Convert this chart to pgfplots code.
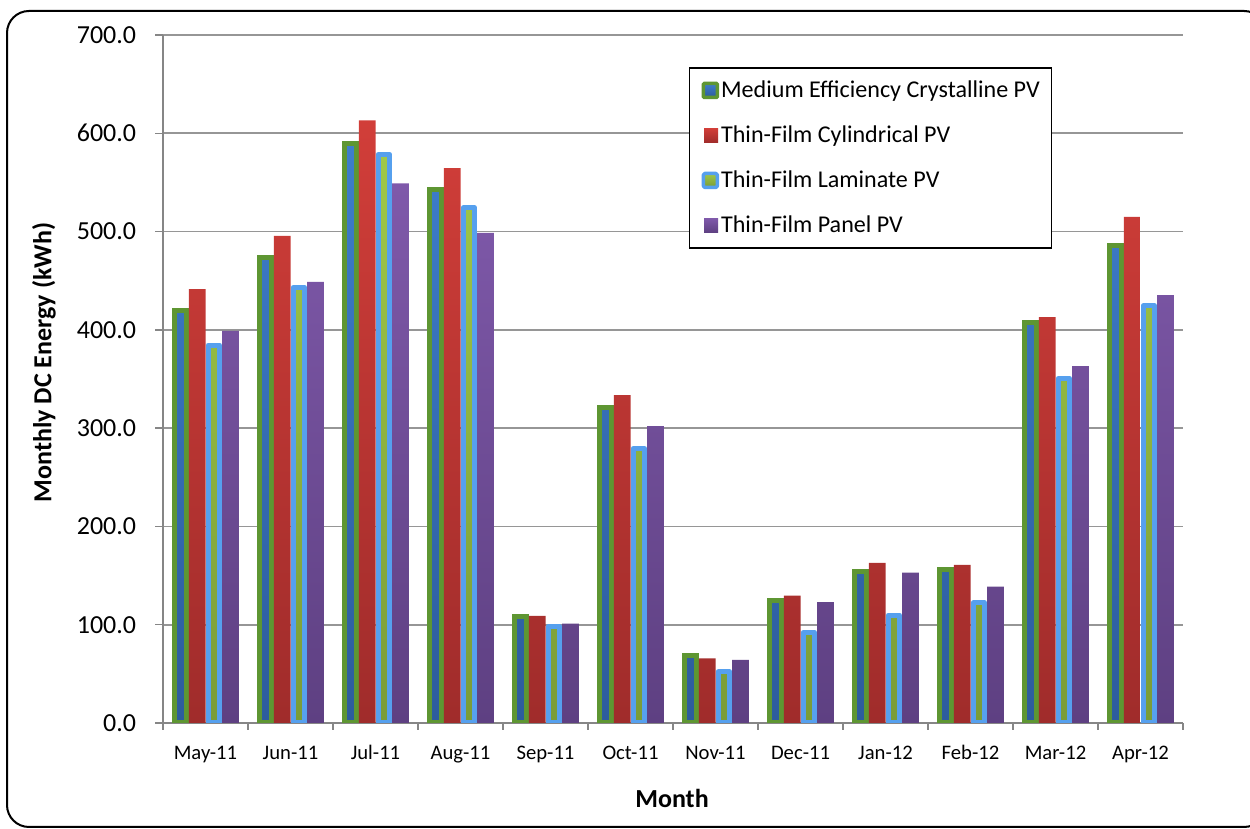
\documentclass[border=0pt]{standalone}
\usepackage{fontspec}
\setmainfont{Carlito}
\usepackage{pgfplots}
\pgfplotsset{compat=1.18}

\newdimen\px \px=0.6pt

\definecolor{medBorder}{RGB}{94,150,50}
\definecolor{medTop}{RGB}{62,126,203}
\definecolor{medBot}{RGB}{45,92,156}
\definecolor{cylTop}{RGB}{209,62,57}
\definecolor{cylBot}{RGB}{160,44,43}
\definecolor{lamBorder}{RGB}{86,160,238}
\definecolor{lamTop}{RGB}{160,200,72}
\definecolor{lamBot}{RGB}{122,156,55}
\definecolor{panTop}{RGB}{127,89,170}
\definecolor{panBot}{RGB}{94,64,130}
\definecolor{gridGray}{RGB}{150,150,150}
\definecolor{axisGray}{RGB}{134,134,134}

% Monthly DC energy (kWh), May 2011 -- April 2012
\pgfplotstableread{
idx med    cyl    lam    pan
0   419.3  441.4  384.5  399.0
1   473.8  495.6  443.3  448.8
2   590.1  613.2  578.5  549.0
3   542.8  564.6  524.0  498.7
4   108.7  109.0   98.2  101.0
5   321.5  333.6  279.2  302.0
6    68.4   65.8   52.1   64.1
7   125.0  129.5   92.1  123.0
8   154.1  163.0  109.7  153.0
9   156.5  161.0  122.2  138.7
10  407.1  413.0  350.7  363.0
11  485.7  515.0  424.4  435.4
}\energy

\begin{document}
\begin{tikzpicture}
\useasboundingbox (0,0) rectangle (750pt,497.4pt);
\draw[line width=2\px, rounded corners=22\px] (7\px,2\px) rectangle (1266\px,818\px);
\begin{axis}[
  at={(163\px,106\px)}, anchor=south west,
  scale only axis, width=1020\px, height=688\px,
  xmin=-0.5, xmax=11.5, ymin=0, ymax=700,
  axis x line*=bottom, axis y line*=left,
  axis line style={draw=axisGray, line width=1.5\px},
  tick align=outside,
  xtick={0,...,11},
  xticklabels={May-11,Jun-11,Jul-11,Aug-11,Sep-11,Oct-11,Nov-11,Dec-11,Jan-12,Feb-12,Mar-12,Apr-12},
  major x tick style={draw=none},
  minor xtick={-0.5,0.5,...,11.5},
  minor x tick style={draw=axisGray, line width=1.5\px},
  minor tick length=7\px,
  ytick={0,100,...,700},
  major y tick style={draw=axisGray, line width=1.5\px},
  major tick length=8\px,
  ymajorgrids,
  y grid style={draw=gridGray, line width=1.6\px},
  /pgf/number format/assume math mode=true,
  yticklabel style={/pgf/number format/.cd, fixed, fixed zerofill, precision=1,
    /tikz/.cd, font=\fontsize{15.6}{18}\selectfont, xshift=-13\px},
  xticklabel style={font=\fontsize{12.4}{15}\selectfont, anchor=base,
    text height=14\px, text depth=4\px, yshift=-29\px},
  xlabel={Month},
  ylabel={Monthly DC Energy (kWh)},
  xlabel style={font=\bfseries\fontsize{15.6}{18}\selectfont,
    at={(axis description cs:0.499,-0.109)}, anchor=center},
  ylabel style={font=\bfseries\fontsize{15.6}{18}\selectfont,
    at={(axis description cs:-0.1167,0.524)}, anchor=center},
  legend style={at={(axis description cs:0.5157,0.953)}, anchor=north west,
    draw=black, line width=1.2\px, fill=white,
    font=\fontsize{14.45}{16}\selectfont,
    inner xsep=12\px, inner ysep=13\px, row sep=26\px,
    nodes={inner sep=0pt, text height=17\px, text depth=2\px},
    /tikz/every even column/.append style={column sep=4\px},
    /tikz/every odd column/.append style={column sep=2\px}},
  legend cell align=left,
]
\addplot[ybar, bar width=11.7\px, bar shift=-25.05\px,
  draw=medBorder, line width=5\px, top color=medTop, bottom color=medBot,
  legend image code/.code={\draw[draw=medBorder, line width=3.5\px, rounded corners=1\px,
    top color=medTop, bottom color=medBot] (-0.25\px,-7\px) rectangle (13.75\px,7\px);}]
  table[x=idx, y=med] {\energy};
\addlegendentry{Medium Efficiency Crystalline PV}
\addplot[ybar, bar width=16.7\px, bar shift=-8.35\px,
  draw=none, top color=cylTop, bottom color=cylBot,
  legend image code/.code={\fill[top color=cylTop, bottom color=cylBot]
    (0.5\px,-7\px) rectangle (14.5\px,7\px);}]
  table[x=idx, y=cyl] {\energy};
\addlegendentry{Thin-Film Cylindrical PV}
\addplot[ybar, bar width=11.7\px, bar shift=8.35\px,
  draw=lamBorder, line width=5\px, line join=round, top color=lamTop, bottom color=lamBot,
  legend image code/.code={\draw[draw=lamBorder, line width=3.5\px, rounded corners=1.5\px,
    top color=lamTop, bottom color=lamBot] (-0.25\px,-7\px) rectangle (13.75\px,7\px);}]
  table[x=idx, y=lam] {\energy};
\addlegendentry{Thin-Film Laminate PV}
\addplot[ybar, bar width=16.7\px, bar shift=25.05\px,
  draw=none, top color=panTop, bottom color=panBot,
  legend image code/.code={\fill[top color=panTop, bottom color=panBot]
    (0.5\px,-7\px) rectangle (14.5\px,7\px);}]
  table[x=idx, y=pan] {\energy};
\addlegendentry{Thin-Film Panel PV}
\end{axis}
\end{tikzpicture}
\end{document}
